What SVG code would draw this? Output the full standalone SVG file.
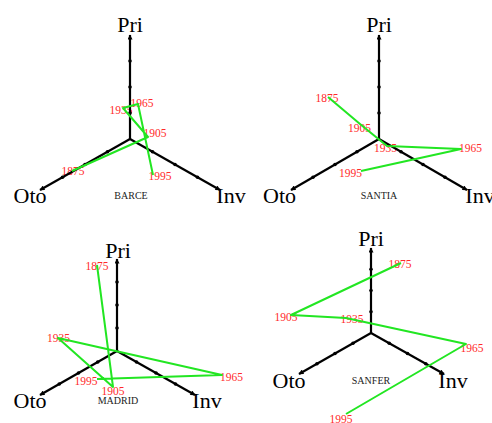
<svg xmlns="http://www.w3.org/2000/svg" width="492" height="423" viewBox="0 0 492 423">
<style>
.axis{stroke:#000;stroke-width:2.2;fill:none;marker-end:url(#arr)}
.tick{fill:#000}
.series{stroke:#22e622;stroke-width:2;fill:none;stroke-linejoin:round}
.yr{font-family:"Liberation Serif","Times New Roman",serif;font-size:11.5px;fill:#ff2a2a;text-anchor:middle}
.ax{font-family:"Liberation Serif","Times New Roman",serif;font-size:22px;fill:#000;text-anchor:middle}
.city{font-family:"Liberation Serif","Times New Roman",serif;font-size:10px;fill:#222;text-anchor:middle}
</style>
<defs>
<marker id="arr" viewBox="0 0 10 10" refX="9" refY="5" markerWidth="8" markerHeight="5" markerUnits="userSpaceOnUse" orient="auto">
<path d="M0,0 L10,5 L0,10 z" fill="#000"/>
</marker>
</defs>

<g id="panel-barce">
<g class="labels">
<text class="yr" x="73" y="175">1875</text>
<text class="yr" x="155" y="136.5">1905</text>
<text class="yr" x="121" y="114">1935</text>
<text class="yr" x="142" y="106.5">1965</text>
<text class="yr" x="160" y="180">1995</text>
</g>
<g class="axes">
<line class="axis" x1="130" y1="139" x2="130" y2="35"/>
<line class="axis" x1="130" y1="139" x2="40" y2="190"/>
<line class="axis" x1="130" y1="139" x2="220" y2="190"/>
<g class="tick">
<circle cx="130" cy="113" r="1.8"/><circle cx="130" cy="87" r="1.8"/><circle cx="130" cy="61" r="1.8"/>
<circle cx="107.5" cy="151.75" r="1.8"/><circle cx="85" cy="164.5" r="1.8"/><circle cx="62.5" cy="177.25" r="1.8"/>
<circle cx="152.5" cy="151.75" r="1.8"/><circle cx="175" cy="164.5" r="1.8"/><circle cx="197.5" cy="177.25" r="1.8"/>
</g>
</g>
<text class="ax" x="130" y="32">Pri</text>
<text class="ax" x="30" y="203">Oto</text>
<text class="ax" x="231" y="203">Inv</text>
<text class="city" x="131" y="199">BARCE</text>
</g>

<g id="panel-santia">
<g class="labels">
<text class="yr" x="327" y="101.5">1875</text>
<text class="yr" x="359.5" y="132">1905</text>
<text class="yr" x="385.5" y="151.5">1935</text>
<text class="yr" x="470.5" y="151.5">1965</text>
<text class="yr" x="350.5" y="177">1995</text>
</g>
<g class="axes">
<line class="axis" x1="379" y1="139" x2="379" y2="35"/>
<line class="axis" x1="379" y1="139" x2="291" y2="190"/>
<line class="axis" x1="379" y1="139" x2="467" y2="190"/>
<g class="tick">
<circle cx="379" cy="113" r="1.8"/><circle cx="379" cy="87" r="1.8"/><circle cx="379" cy="61" r="1.8"/>
<circle cx="357" cy="151.75" r="1.8"/><circle cx="335" cy="164.5" r="1.8"/><circle cx="313" cy="177.25" r="1.8"/>
<circle cx="401" cy="151.75" r="1.8"/><circle cx="423" cy="164.5" r="1.8"/><circle cx="445" cy="177.25" r="1.8"/>
</g>
</g>
<text class="ax" x="379" y="32">Pri</text>
<text class="ax" x="279.5" y="203">Oto</text>
<text class="ax" x="480" y="203">Inv</text>
<text class="city" x="379" y="199">SANTIA</text>
</g>

<g id="panel-madrid">
<g class="labels">
<text class="yr" x="97" y="270">1875</text>
<text class="yr" x="113" y="395">1905</text>
<text class="yr" x="58.5" y="342">1935</text>
<text class="yr" x="231.5" y="381">1965</text>
<text class="yr" x="86" y="385">1995</text>
</g>
<g class="axes">
<line class="axis" x1="117" y1="351" x2="117" y2="259"/>
<line class="axis" x1="117" y1="351" x2="40" y2="395"/>
<line class="axis" x1="117" y1="351" x2="195" y2="395"/>
<g class="tick">
<circle cx="117" cy="328" r="1.8"/><circle cx="117" cy="305" r="1.8"/><circle cx="117" cy="282" r="1.8"/>
<circle cx="97.75" cy="362" r="1.8"/><circle cx="78.5" cy="373" r="1.8"/><circle cx="59.25" cy="384" r="1.8"/>
<circle cx="136.5" cy="362" r="1.8"/><circle cx="156" cy="373" r="1.8"/><circle cx="175.5" cy="384" r="1.8"/>
</g>
</g>
<text class="ax" x="118" y="258">Pri</text>
<text class="ax" x="30" y="408">Oto</text>
<text class="ax" x="207" y="408">Inv</text>
<text class="city" x="118" y="404">MADRID</text>
</g>

<g id="panel-sanfer">
<g class="labels">
<text class="yr" x="400" y="268">1875</text>
<text class="yr" x="286" y="321">1905</text>
<text class="yr" x="352" y="323">1935</text>
<text class="yr" x="472" y="351.5">1965</text>
<text class="yr" x="341" y="423">1995</text>
</g>
<g class="axes">
<line class="axis" x1="371" y1="333" x2="371" y2="248"/>
<line class="axis" x1="371" y1="333" x2="299" y2="374"/>
<line class="axis" x1="371" y1="333" x2="444" y2="374"/>
<g class="tick">
<circle cx="371" cy="311.75" r="1.8"/><circle cx="371" cy="290.5" r="1.8"/><circle cx="371" cy="269.25" r="1.8"/>
<circle cx="353" cy="343.25" r="1.8"/><circle cx="335" cy="353.5" r="1.8"/><circle cx="317" cy="363.75" r="1.8"/>
<circle cx="389.25" cy="343.25" r="1.8"/><circle cx="407.5" cy="353.5" r="1.8"/><circle cx="425.75" cy="363.75" r="1.8"/>
</g>
</g>
<text class="ax" x="371" y="246">Pri</text>
<text class="ax" x="289" y="388">Oto</text>
<text class="ax" x="453" y="388">Inv</text>
<text class="city" x="371" y="384">SANFER</text>
</g>

<g id="connectors">
<polyline id="series-barce" class="series" points="72,171 148,137 123,108 138,104 153,175"/>
<polyline id="series-santia" class="series" points="328,97 360,124 387,146 461,149 361,171"/>
<polyline id="series-madrid" class="series" points="97,265 113,387 58,338 222,375 97,379"/>
<polyline id="series-sanfer" class="series" points="401,263 291,315 346,318 466,344 346,414"/>
</g>
</svg>
